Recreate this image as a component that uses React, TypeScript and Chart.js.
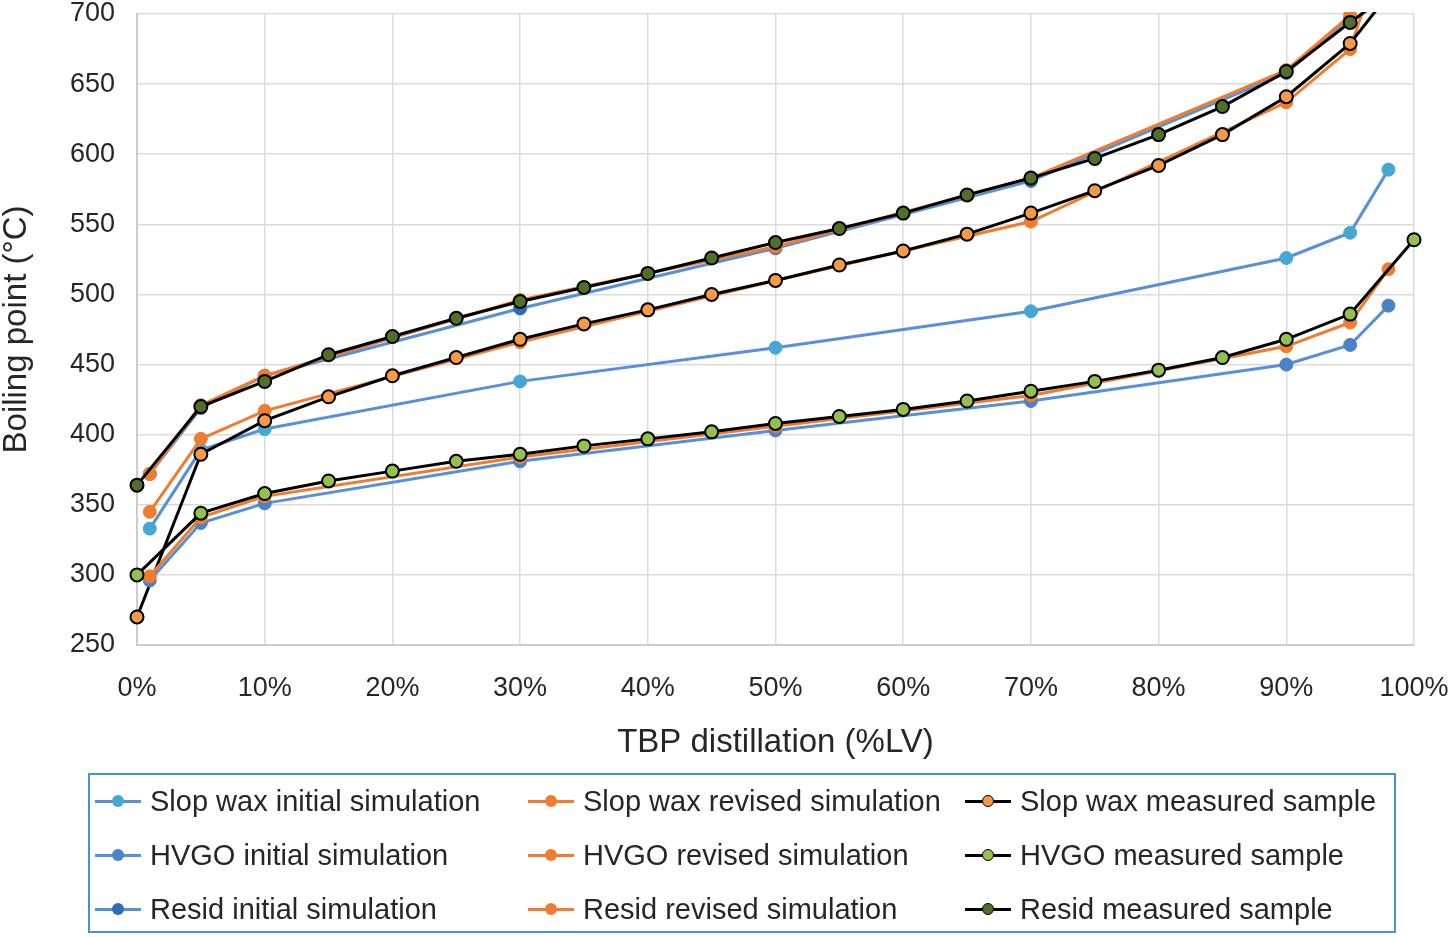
import React, { useEffect, useRef } from "react";
import { Chart, registerables } from "chart.js";

Chart.register(...registerables);

// ---- data ----
const simPercent = [1, 5, 10, 30, 50, 70, 90, 95, 98];
const measPercent = [0, 5, 10, 15, 20, 25, 30, 35, 40, 45, 50, 55, 60, 65, 70, 75, 80, 85, 90, 95, 100];

const slopWaxInitial = [333, 389, 404, 438, 462, 488, 526, 544, 589];
const slopWaxRevised = [345, 397, 417, 466, 510, 552, 637, 675, 758];
const slopWaxMeasured = [270, 386, 410, 427, 442, 455, 468, 479, 489, 500, 510, 521, 531, 543, 558, 574, 592, 614, 641, 679, 737];

const hvgoInitial = [296, 337, 351, 381, 403, 424, 450, 464, 492];
const hvgoRevised = [299, 341, 356, 384, 406, 428, 463, 480, 518];
const hvgoMeasured = [300, 344, 358, 367, 374, 381, 386, 392, 397, 402, 408, 413, 418, 424, 431, 438, 446, 455, 468, 486, 539];

const residInitial = [372, 419, 442, 490, 533, 581, 658, 697, 742];
const residRevised = [372, 421, 442, 496, 534, 583, 660, 699, 745];
const residMeasured = [364, 420, 438, 457, 470, 483, 495, 505, 515, 526, 537, 547, 558, 571, 583, 597, 614, 634, 659, 694, 727];

const xTickLabels = ["0%", "10%", "20%", "30%", "40%", "50%", "60%", "70%", "80%", "90%", "100%"];
const xTitle = "TBP distillation (%LV)";
const yTitle = "Boiling point (°C)";

// ---- styles ----
const FONT = "'Liberation Sans', Arial, Helvetica, sans-serif";
const TEXT = "#262626";
const SIM_BLUE = "#5690D8";
const REV_ORANGE = "#EF7D2F";

type Series = {
  label: string;
  xs: number[];
  ys: number[];
  line: string;
  marker: string;
  markerBorder: string;
  measured: boolean;
};

const series: Series[] = [
  { label: "Slop wax initial simulation", xs: simPercent, ys: slopWaxInitial, line: SIM_BLUE, marker: "#45A8D2", markerBorder: "#45A8D2", measured: false },
  { label: "Slop wax revised simulation", xs: simPercent, ys: slopWaxRevised, line: REV_ORANGE, marker: REV_ORANGE, markerBorder: REV_ORANGE, measured: false },
  { label: "Slop wax measured sample", xs: measPercent, ys: slopWaxMeasured, line: "#000000", marker: "#F79A47", markerBorder: "#000000", measured: true },
  { label: "HVGO initial simulation", xs: simPercent, ys: hvgoInitial, line: SIM_BLUE, marker: "#4C82C9", markerBorder: "#4C82C9", measured: false },
  { label: "HVGO revised simulation", xs: simPercent, ys: hvgoRevised, line: REV_ORANGE, marker: REV_ORANGE, markerBorder: REV_ORANGE, measured: false },
  { label: "HVGO measured sample", xs: measPercent, ys: hvgoMeasured, line: "#000000", marker: "#93C04E", markerBorder: "#000000", measured: true },
  { label: "Resid initial simulation", xs: simPercent, ys: residInitial, line: SIM_BLUE, marker: "#2D6DB5", markerBorder: "#2D6DB5", measured: false },
  { label: "Resid revised simulation", xs: simPercent, ys: residRevised, line: REV_ORANGE, marker: REV_ORANGE, markerBorder: REV_ORANGE, measured: false },
  { label: "Resid measured sample", xs: measPercent, ys: residMeasured, line: "#000000", marker: "#4F6F2A", markerBorder: "#000000", measured: true },
];

const CANVAS_W = 1453;
const CANVAS_H = 780;

export default function App() {
  const canvasRef = useRef<HTMLCanvasElement | null>(null);

  useEffect(() => {
    if (!canvasRef.current) return;
    const n = series.length;
    const chart = new Chart(canvasRef.current, {
      type: "line",
      data: {
        datasets: series.map((s, i) => ({
          label: s.label,
          data: s.xs.map((x, k) => ({ x, y: s.ys[k] })),
          borderColor: s.line,
          backgroundColor: s.marker,
          borderWidth: 3,
          pointRadius: 6.5,
          pointBackgroundColor: s.marker,
          pointBorderColor: s.markerBorder,
          pointBorderWidth: s.measured ? 2 : 1,
          tension: 0,
          fill: false,
          order: n - 1 - i,
          clip: { left: 12, right: 12, top: 2, bottom: 12 },
        })),
      },
      options: {
        animation: false,
        responsive: false,
        maintainAspectRatio: false,
        devicePixelRatio: 1,
        layout: { padding: { left: 0, right: 39, top: 14, bottom: 0 } },
        plugins: {
          legend: { display: false },
          tooltip: { enabled: false },
        },
        scales: {
          x: {
            type: "linear",
            min: 0,
            max: 100,
            ticks: {
              stepSize: 10,
              autoSkip: false,
              maxRotation: 0,
              padding: 30,
              color: TEXT,
              font: { family: FONT, size: 27, lineHeight: 1 },
              callback: (v: any) => {
                const idx = Math.round(Number(v) / 10);
                return xTickLabels[idx] ?? "";
              },
            },
            grid: { color: "#dcdcdc", lineWidth: 1.5, drawTicks: false },
            border: { color: "#cccccc", width: 2 },
            title: {
              display: true,
              text: xTitle,
              color: TEXT,
              font: { family: FONT, size: 33, lineHeight: 1 },
              padding: { top: 0, bottom: 21 },
            },
            afterFit: (scale: any) => {
              scale.height = 135;
              scale.paddingLeft = 0;
              scale.paddingRight = 0;
            },
          },
          y: {
            type: "linear",
            min: 250,
            max: 700,
            ticks: {
              stepSize: 50,
              padding: 22,
              color: TEXT,
              font: { family: FONT, size: 27, lineHeight: 1 },
            },
            grid: { color: "#dcdcdc", lineWidth: 1.5, drawTicks: false },
            border: { color: "#cccccc", width: 2 },
            title: {
              display: true,
              text: yTitle,
              color: TEXT,
              font: { family: FONT, size: 33, lineHeight: 1 },
              padding: { top: 0, bottom: 0 },
            },
            afterFit: (scale: any) => {
              scale.width = 137;
              scale.paddingTop = 0;
              scale.paddingBottom = 0;
            },
          },
        },
      } as any,
    });
    return () => chart.destroy();
  }, []);

  const colLeft = [95, 528, 965];
  const rowCenter = [801, 855, 909];

  return (
    <div
      style={{
        position: "fixed",
        left: 0,
        top: 0,
        width: CANVAS_W,
        height: 937,
        background: "#ffffff",
        fontFamily: FONT,
        overflow: "hidden",
      }}
    >
      <canvas
        ref={canvasRef}
        width={CANVAS_W}
        height={CANVAS_H}
        style={{ position: "absolute", left: 0, top: 0, width: CANVAS_W, height: CANVAS_H }}
      />
      <div
        style={{
          position: "absolute",
          left: 88,
          top: 773,
          width: 1308,
          height: 160,
          boxSizing: "border-box",
          border: "2px solid #4A90D9",
        }}
      />
      {series.map((s, i) => {
        const col = i % 3;
        const row = Math.floor(i / 3);
        const left = colLeft[col];
        const cy = rowCenter[row];
        return (
          <div
            key={s.label}
            style={{
              position: "absolute",
              left,
              top: cy - 18,
              height: 36,
              display: "flex",
              alignItems: "center",
              whiteSpace: "nowrap",
            }}
          >
            <div style={{ position: "relative", width: 46, height: 36, marginRight: 9 }}>
              <div
                style={{
                  position: "absolute",
                  left: 0,
                  top: 16.5,
                  width: 46,
                  height: 3,
                  background: s.line,
                }}
              />
              <div
                style={{
                  position: "absolute",
                  left: 23 - 6,
                  top: 18 - 6,
                  width: 12,
                  height: 12,
                  boxSizing: "border-box",
                  borderRadius: "50%",
                  background: s.marker,
                  border: s.measured ? "1.5px solid #000" : "none",
                }}
              />
            </div>
            <span style={{ fontSize: 29, color: TEXT, lineHeight: "36px" }}>{s.label}</span>
          </div>
        );
      })}
    </div>
  );
}
